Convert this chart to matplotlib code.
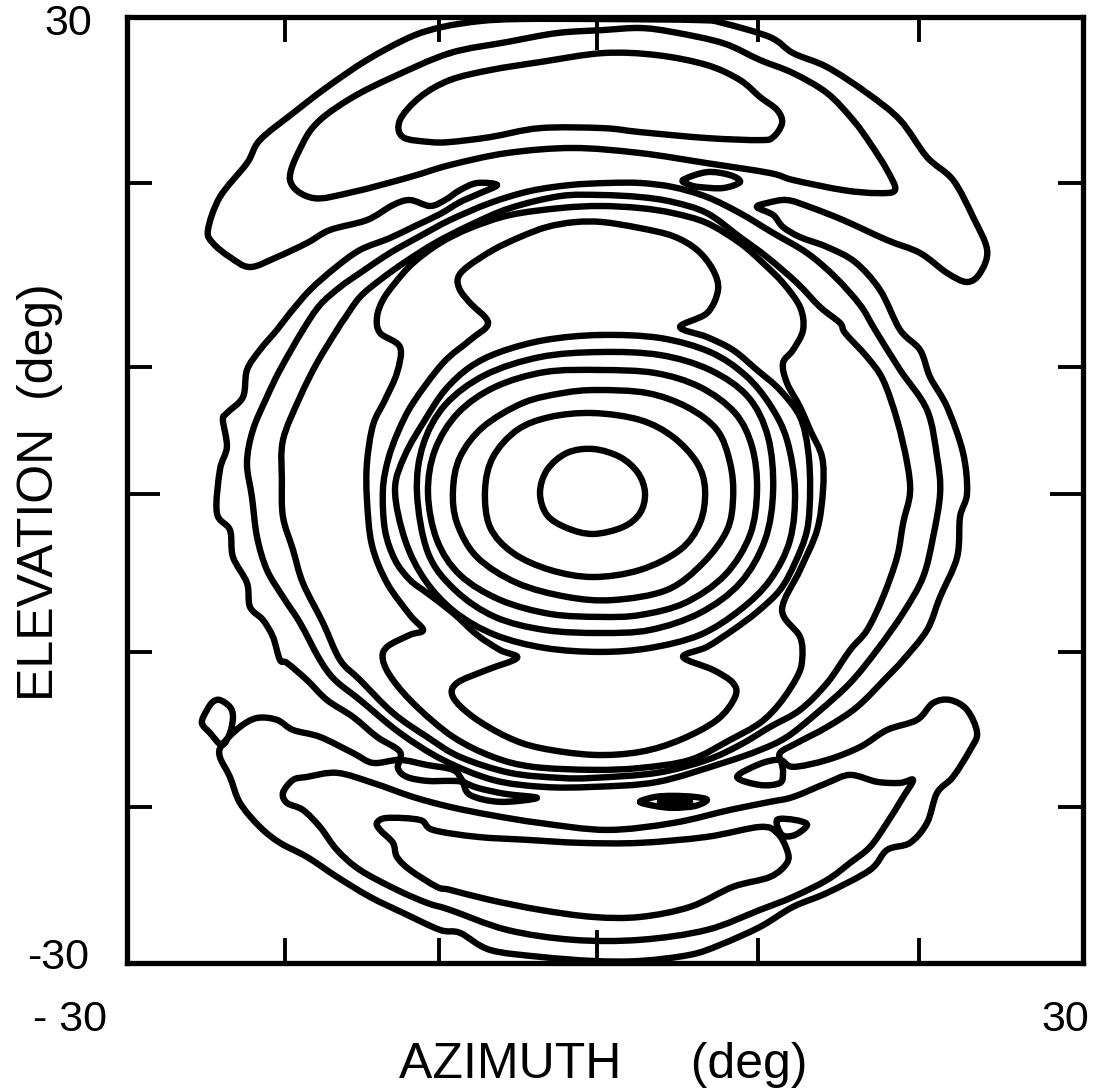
import matplotlib
matplotlib.use("Agg")
import matplotlib.pyplot as plt
from matplotlib.path import Path
from matplotlib.patches import PathPatch

# contour lines, (azimuth, elevation) in deg
c1 = [(-0.75, 2.6), (0.94, 2.09), (2.07, 1.08), (2.51, -0.19), (2.2, -1.46), (1.13, -2.35),
      (-0.75, -2.79), (-2.39, -2.41), (-3.64, -1.59), (-4.08, -0.19), (-3.64, 1.27), (-2.39, 2.35)]

c2 = [(-0.75, 4.88), (2.2, 4.44), (4.27, 3.36), (5.78, 1.71), (6.28, 0), (5.96, -2.09), (4.71, -3.8),
      (2.2, -5.07), (-0.75, -5.52), (-3.45, -5.07), (-5.78, -3.99), (-7.22, -2.35), (-7.53, 0),
      (-7.03, 2.09), (-5.52, 3.8), (-3.45, 4.63)]

c3 = [(-0.5, 6.34), (2.64, 6.15), (5.15, 5.26), (7.03, 3.8), (7.85, 1.71), (8.04, -0.44), (7.66, -2.54),
      (6.15, -4.63), (3.89, -6.34), (0.5, -6.98), (-2.39, -6.78), (-5.52, -5.9), (-8.04, -4.25),
      (-9.29, -2.09), (-9.54, 0), (-9.1, 2.09), (-7.66, 3.99), (-5.15, 5.52), (-2.64, 6.15)]

c4 = [(-0.31, 7.61), (3.14, 7.42), (5.96, 6.53), (8.16, 4.88), (9.23, 2.73), (9.54, 0), (9.1, -2.85),
      (7.53, -5.39), (5.02, -7.16), (2.2, -7.93), (-0.31, -8.05), (-3.45, -7.86), (-6.59, -6.97),
      (-9.1, -5.39), (-10.55, -3.17), (-11.11, -0.19), (-10.67, 2.54), (-9.23, 4.88), (-6.91, 6.53),
      (-3.77, 7.48)]

c5 = [(-0.31, 8.75), (3.45, 8.56), (6.59, 7.61), (8.98, 5.9), (10.23, 3.36), (10.55, 0), (10.04, -3.17),
      (8.48, -5.9), (5.96, -7.8), (2.82, -8.88), (-0.31, -9.07), (-3.77, -8.88), (-6.91, -8.05),
      (-9.42, -6.34), (-11.11, -3.99), (-11.8, -0.19), (-11.42, 2.85), (-10.04, 5.39), (-7.53, 7.29),
      (-4.08, 8.43)]

c6 = [(-0.31, 9.83), (3.45, 9.64), (6.59, 8.75), (8.79, 7.29), (10.36, 5.39), (11.42, 3.17), (11.92, 0),
      (11.61, -3.17), (10.36, -5.71), (8.47, -7.61), (5.96, -9.19), (2.82, -10.02), (-0.31, -10.27),
      (-3.77, -10.02), (-6.91, -9.19), (-9.42, -7.74), (-11.30, -5.71), (-12.55, -3.17), (-13.18, 0),
      (-12.55, 2.22), (-11.30, 4.44), (-10.04, 6.34), (-8.47, 7.80), (-6.59, 8.75), (-3.77, 9.51)]

hourglass = [(-7.34, 10.59), (-8.47, 11.86), (-9.10, 12.68), (-9.23, 13.44), (-8.66, 14.14), (-7.03, 15.22),
             (-5.34, 16.04), (-3.64, 16.68), (-1.88, 16.99), (-0.13, 16.99), (2.20, 16.61), (4.27, 16.10),
             (5.78, 15.22), (6.78, 13.95), (7.09, 12.68), (6.40, 11.22), (4.71, 10.34), (6.40, 9.70),
             (8.03, 8.88), (9.54, 7.61), (10.98, 6.34), (12.24, 4.63), (12.74, 2.54), (12.87, 0),
             (12.68, -2.54), (11.92, -4.63), (10.98, -6.34), (9.54, -7.74), (8.03, -8.88), (6.40, -9.95),
             (4.90, -10.59), (6.78, -11.41), (8.03, -12.24), (8.16, -13.13), (7.03, -14.58), (4.71, -15.85),
             (2.20, -16.61), (-0.75, -16.80), (-4.08, -16.36), (-6.15, -15.66), (-8.29, -14.39),
             (-9.54, -13.13), (-9.29, -12.24), (-7.41, -11.41), (-5.52, -10.65), (-6.59, -10.15),
             (-8.03, -9.19), (-9.54, -7.80), (-11.17, -6.53), (-12.24, -5.71), (-13.18, -4.44),
             (-13.81, -2.54), (-13.94, 0), (-13.62, 1.90), (-12.99, 3.68), (-12.05, 5.52), (-10.17, 8.05),
             (-8.47, 9.51)]

c8 = [(-14.31, 10.97), (-13.94, 12.05), (-13.18, 13.13), (-12.05, 14.39), (-10.36, 15.66), (-8.47, 16.61),
      (-5.96, 17.44), (-2.82, 17.88), (-0.31, 18.01), (2.20, 17.88), (4.27, 17.56), (6.40, 16.93),
      (8.47, 15.66), (9.92, 14.39), (11.17, 13.13), (12.24, 11.60), (12.43, 10.15), (11.80, 8.88),
      (11.17, 8.05), (11.42, 6.78), (12.24, 5.26), (12.87, 3.80), (13.62, 2.09), (13.68, 0),
      (13.31, -2.54), (12.24, -5.07), (11.11, -7.61), (12.24, -9.32), (12.37, -10.78), (12.05, -11.86),
      (10.98, -13.51), (9.73, -14.77), (7.85, -15.85), (5.34, -17.12), (2.20, -17.63), (-0.75, -17.75),
      (-4.52, -17.56), (-7.03, -16.93), (-9.54, -15.66), (-11.80, -13.76), (-13.31, -12.05),
      (-13.94, -10.78), (-13.68, -9.95), (-12.24, -9.19), (-11.42, -8.88), (-12.24, -7.93),
      (-13.68, -5.90), (-14.63, -3.49), (-14.94, -0.63), (-14.94, 1.71), (-14.56, 4.12), (-13.81, 5.71),
      (-13.06, 7.42), (-12.87, 9.07), (-14.12, 9.96)]

c9 = [(-16.82, 10.15), (-16.32, 10.91), (-15.38, 12.24), (-14.12, 13.32), (-12.55, 14.46), (-10.67, 15.66),
      (-8.47, 16.80), (-5.96, 17.88), (-2.82, 18.64), (-0.31, 18.71), (2.20, 18.58), (4.27, 18.26),
      (6.40, 17.56), (8.47, 16.04), (10.17, 14.77), (12.05, 13.13), (13.50, 11.60), (14.75, 10.59),
      (15.07, 9.95), (16.45, 8.43), (17.45, 6.98), (18.33, 4.44), (18.96, 1.71), (19.14, -0.19),
      (18.71, -2.09), (18.33, -4.25), (17.45, -6.78), (16.45, -8.88), (15.38, -10.15), (13.94, -12.24),
      (12.24, -13.95), (10.36, -15.03), (8.47, -16.17), (6.40, -17.12), (3.26, -17.94), (-0.75, -18.26),
      (-2.82, -18.26), (-5.96, -17.94), (-9.10, -16.93), (-11.17, -15.66), (-13.31, -14.14),
      (-15.38, -12.05), (-16.63, -10.78), (-17.70, -8.43), (-18.96, -5.90), (-19.58, -3.80),
      (-20.21, -1.71), (-20.28, 0.63), (-20.21, 3.17), (-19.14, 5.90), (-18.08, 8.05)]

c10 = [(-18.96, 10.15), (-17.89, 11.73), (-16.63, 12.87), (-15.38, 13.76), (-13.50, 15.03), (-11.61, 16.10),
       (-9.73, 17.12), (-7.22, 18.20), (-4.71, 18.96), (-2.20, 19.34), (0.13, 19.47), (2.20, 19.47),
       (4.27, 19.21), (6.40, 18.58), (8.47, 17.56), (10.55, 16.30), (12.68, 15.03), (14.44, 13.51),
       (16.01, 11.73), (16.95, 10.15), (18.52, 7.61), (20.21, 5.07), (20.84, 2.09), (21.03, -0.19),
       (20.59, -2.98), (19.96, -5.52), (18.71, -7.80), (17.07, -10.15), (15.38, -12.24), (13.31, -14.14),
       (11.42, -15.66), (9.73, -16.49), (7.41, -17.31), (3.26, -18.52), (-0.75, -18.83), (-3.89, -18.83),
       (-7.03, -18.39), (-10.17, -17.12), (-12.87, -15.41), (-15.38, -13.32), (-16.95, -12.05),
       (-17.89, -10.78), (-19.14, -8.43), (-20.21, -6.78), (-21.22, -5.07), (-21.84, -2.98),
       (-22.16, -0.44), (-22.47, 1.71), (-22.10, 3.80), (-21.22, 5.90), (-20.40, 7.61)]

# outermost level: top crescent, both flanks and bottom crescent in one loop
outer = [(-6.78, 19.34), (-8.03, 19.47), (-9.10, 19.02), (-10.04, 18.39), (-10.98, 18.01), (-12.24, 18.39),
         (-13.31, 18.07), (-14.94, 17.12), (-17.26, 16.49), (-18.71, 15.66), (-20.59, 14.77), (-22.28, 14.14),
         (-23.54, 14.77), (-24.61, 15.66), (-24.92, 16.49), (-24.17, 18.58), (-22.47, 20.73), (-21.66, 22.19),
         (-19.58, 23.90), (-17.45, 25.55), (-14.94, 27.27), (-12.24, 28.72), (-10.23, 29.36), (-7.85, 29.74),
         (-5.34, 29.87), (-0.31, 29.87), (5.96, 29.80), (7.41, 29.61), (10.36, 28.72), (11.80, 27.71),
         (13.94, 26.82), (16.45, 25.17), (18.52, 23.46), (20.21, 21.11), (21.84, 19.66), (23.10, 17.31),
         (23.98, 15.22), (23.54, 13.76), (22.72, 13.19), (21.47, 13.76), (19.77, 15.03), (17.70, 15.85),
         (14.94, 17.12), (12.87, 17.94), (11.42, 18.39), (10.17, 18.20), (9.54, 17.94), (10.55, 17.44),
         (11.17, 16.68), (12.24, 16.04), (13.94, 15.41), (15.69, 14.46), (17.26, 12.68), (18.52, 10.15),
         (19.77, 8.88), (20.40, 7.16), (21.47, 5.26), (22.47, 2.35), (22.72, -0.19), (22.28, -1.71),
         (22.10, -4.25), (21.03, -6.78), (20.21, -8.88), (18.71, -10.78), (17.70, -11.86), (15.82, -13.76),
         (13.94, -15.03), (12.05, -16.04), (10.98, -16.68), (11.11, -17.44), (11.17, -17.94), (10.98, -18.58),
         (9.73, -18.71), (8.29, -18.20), (9.73, -17.37), (10.98, -17.12), (11.80, -17.56), (13.94, -17.12),
         (16.01, -16.30), (17.70, -15.22), (19.58, -14.58), (20.59, -13.51), (21.66, -13.32), (22.72, -13.95),
         (23.35, -15.41), (22.91, -16.49), (21.84, -18.20), (20.84, -19.21), (20.21, -21.11), (19.14, -22.38),
         (17.70, -22.83), (16.63, -24.10), (13.94, -25.55), (11.80, -26.44), (9.73, -27.71), (7.22, -28.85),
         (5.34, -29.48), (2.20, -29.87), (-0.75, -29.87), (-4.08, -29.61), (-7.22, -29.17), (-9.10, -28.09),
         (-10.36, -27.90), (-12.68, -26.82), (-14.75, -25.81), (-16.82, -24.54), (-18.71, -23.27),
         (-20.40, -22.38), (-21.66, -21.37), (-22.91, -19.85), (-23.54, -18.20), (-24.17, -16.93),
         (-24.04, -16.17), (-22.91, -15.03), (-21.84, -14.46), (-20.59, -14.58), (-19.58, -15.22),
         (-17.89, -15.66), (-15.82, -16.68), (-14.56, -17.31), (-12.87, -17.12), (-11.17, -17.44),
         (-9.54, -17.75), (-8.98, -18.39), (-8.47, -19.34), (-6.59, -19.78), (-4.27, -19.53), (-6.28, -19.27),
         (-7.97, -18.90), (-8.98, -18.51), (-9.73, -18.45), (-11.17, -18.45), (-12.43, -18.20), (-13.00, -17.63),
         (-12.87, -16.61), (-14.31, -15.66), (-15.82, -14.39), (-17.45, -13.32), (-18.71, -12.05),
         (-19.96, -10.97), (-20.40, -10.78), (-20.84, -9.32), (-21.47, -8.24), (-22.28, -7.42), (-22.47, -5.90),
         (-23.35, -4.25), (-23.54, -2.54), (-24.36, -1.46), (-24.17, 1.27), (-23.73, 2.73), (-23.98, 4.44),
         (-23.73, 4.88), (-22.72, 5.90), (-22.47, 7.61), (-21.66, 8.88), (-20.59, 10.15), (-19.77, 11.22),
         (-18.52, 12.68), (-16.95, 14.08), (-15.38, 15.22), (-13.50, 15.98), (-11.93, 16.74), (-10.36, 17.50),
         (-9.10, 18.26), (-7.97, 18.77)]

teardrop = [(-24.04, -16.17), (-24.79, -15.41), (-25.30, -14.77), (-24.98, -13.95), (-24.61, -13.44),
            (-24.17, -13.32), (-23.54, -13.76), (-23.35, -14.39), (-23.54, -15.41)]

top_mid = [(-9.73, 27.71), (-13.31, 26.19), (-15.82, 24.92), (-17.89, 23.46), (-18.96, 22.00), (-19.77, 19.66),
           (-18.33, 18.52), (-15.82, 18.90), (-12.24, 19.85), (-9.73, 20.61), (-6.15, 21.37), (-2.01, 21.69),
           (2.20, 21.37), (6.40, 20.73), (10.36, 20.10), (11.80, 19.66), (14.94, 19.02), (17.07, 18.83),
           (18.20, 19.02), (17.70, 20.29), (16.63, 22.00), (15.57, 23.46), (13.94, 25.17), (11.80, 26.44),
           (9.73, 27.27), (7.41, 28.34), (4.27, 29.04), (2.20, 29.30), (-0.13, 29.17), (-3.01, 28.98),
           (-6.15, 28.41)]

top_in = [(-9.73, 26.00), (-11.61, 24.92), (-12.87, 23.46), (-12.68, 22.38), (-10.98, 22.07), (-9.73, 22.07),
          (-7.22, 22.38), (-4.08, 22.95), (-0.13, 22.95), (2.20, 22.70), (6.40, 22.32), (9.73, 22.19),
          (10.55, 22.38), (11.11, 23.27), (10.80, 24.10), (9.73, 24.92), (8.47, 26.00), (6.40, 26.95),
          (3.26, 27.58), (-0.13, 27.71), (-4.08, 27.14), (-7.22, 26.63)]

top_island = [(4.90, 19.66), (6.40, 20.16), (7.85, 19.97), (8.47, 19.53), (7.41, 19.15), (5.96, 19.21),
              (5.34, 19.34)]

bot_mid = [(-20.21, -19.21), (-19.58, -18.39), (-18.71, -18.20), (-16.82, -17.94), (-14.56, -18.58),
           (-12.05, -19.47), (-9.73, -20.10), (-7.22, -20.61), (-4.08, -21.12), (0.13, -21.56), (4.27, -21.12),
           (7.85, -20.29), (10.36, -19.78), (11.80, -19.47), (13.94, -18.58), (15.38, -18.07), (17.07, -18.51),
           (18.52, -18.58), (19.33, -18.39), (18.71, -19.47), (17.70, -21.11), (16.63, -22.64), (15.38, -23.65),
           (13.94, -24.73), (11.80, -25.81), (9.73, -26.63), (6.40, -27.90), (2.20, -28.53), (-2.01, -28.53),
           (-6.15, -27.90), (-9.73, -26.63), (-11.17, -26.19), (-13.06, -25.36), (-15.38, -24.10),
           (-16.82, -22.83), (-17.89, -21.37), (-18.96, -20.29), (-19.96, -19.85)]

bot_in = [(-14.31, -21.11), (-13.68, -20.80), (-11.61, -20.93), (-10.80, -21.56), (-8.03, -22.00),
          (-4.90, -22.19), (-1.57, -22.38), (2.20, -22.38), (6.40, -22.00), (9.73, -21.37), (10.80, -21.75),
          (11.42, -22.83), (11.42, -23.65), (10.36, -24.54), (8.03, -25.17), (5.34, -26.44), (2.20, -27.08),
          (-0.75, -27.08), (-4.08, -26.63), (-7.22, -26.00), (-9.73, -25.36), (-10.55, -25.17),
          (-12.24, -24.10), (-13.06, -23.27), (-13.31, -22.38), (-14.12, -21.56)]

bot_loop = [(10.80, -20.93), (11.92, -20.93), (12.68, -21.24), (11.92, -21.88), (11.11, -21.88)]

bot_island = [(2.20, -19.78), (3.14, -19.47), (4.27, -19.40), (5.65, -19.47), (6.40, -19.66), (5.65, -20.04),
              (4.27, -20.16), (3.14, -20.04)]
bot_island_in = [(3.45, -19.78), (4.39, -19.66), (5.34, -19.78), (4.39, -19.91)]

closed_lines = [c1, c2, c3, c4, c5, c6, hourglass, c8, c9, c10, outer, teardrop,
                top_mid, top_in, top_island, bot_mid, bot_in, bot_loop, bot_island, bot_island_in]

x_ticks = [-20.1, -10.4, 9.6, 19.7]
x_tick_mid = [-0.5]
y_ticks = [19.5, 7.8, -10.3, -20.1]
y_tick_mid = [-0.25]


def smooth_loop(pts):
    # closed Catmull-Rom curve through the read points, as cubic Bezier pieces
    n = len(pts)
    verts = [pts[0]]
    codes = [Path.MOVETO]
    for i in range(n):
        p0 = pts[(i - 1) % n]
        p1 = pts[i]
        p2 = pts[(i + 1) % n]
        p3 = pts[(i + 2) % n]
        b1 = (p1[0] + (p2[0] - p0[0]) / 6, p1[1] + (p2[1] - p0[1]) / 6)
        b2 = (p2[0] - (p3[0] - p1[0]) / 6, p2[1] - (p3[1] - p1[1]) / 6)
        verts += [b1, b2, p2]
        codes += [Path.CURVE4] * 3
    return Path(verts, codes)


fig = plt.figure(figsize=(11.17, 10.88), dpi=100)
ax = fig.add_axes([0.1137, 0.1149, 0.8559, 0.8695])

for line in closed_lines:
    ax.add_patch(PathPatch(smooth_loop(line), fill=False, edgecolor='black', lw=4.6,
                           joinstyle='round', capstyle='round'))

ax.set_xlim(-30, 30)
ax.set_ylim(-30, 30)

ax.set_xticks(x_tick_mid)
ax.set_xticks(x_ticks, minor=True)
ax.set_yticks(y_tick_mid)
ax.set_yticks(y_ticks, minor=True)
ax.tick_params(which='both', direction='in', top=True, right=True,
               labelbottom=False, labelleft=False, width=2.8, color='black')
ax.tick_params(which='major', length=24)
ax.tick_params(which='minor', length=18)
for s in ax.spines.values():
    s.set_linewidth(3.8)

font = dict(family=['Liberation Sans', 'DejaVu Sans'], color='black')
fig.text(68 / 1117, 1 - 24 / 1088, '30', ha='center', va='center', fontsize=31, **font)
fig.text(58 / 1117, 1 - 958 / 1088, '-30', ha='center', va='center', fontsize=31, **font)
fig.text(70 / 1117, 1 - 1020 / 1088, '- 30', ha='center', va='center', fontsize=31, **font)
fig.text(1065 / 1117, 1 - 1020 / 1088, '30', ha='center', va='center', fontsize=31, **font)
fig.text(603 / 1117, 1 - 1065 / 1088, 'AZIMUTH     (deg)', ha='center', va='center', fontsize=36, **font)
fig.text(40 / 1117, 1 - 492 / 1088, 'ELEVATION  (deg)', ha='center', va='center', rotation=90,
         fontsize=36, **font)

fig.savefig('out.png', dpi=100)
